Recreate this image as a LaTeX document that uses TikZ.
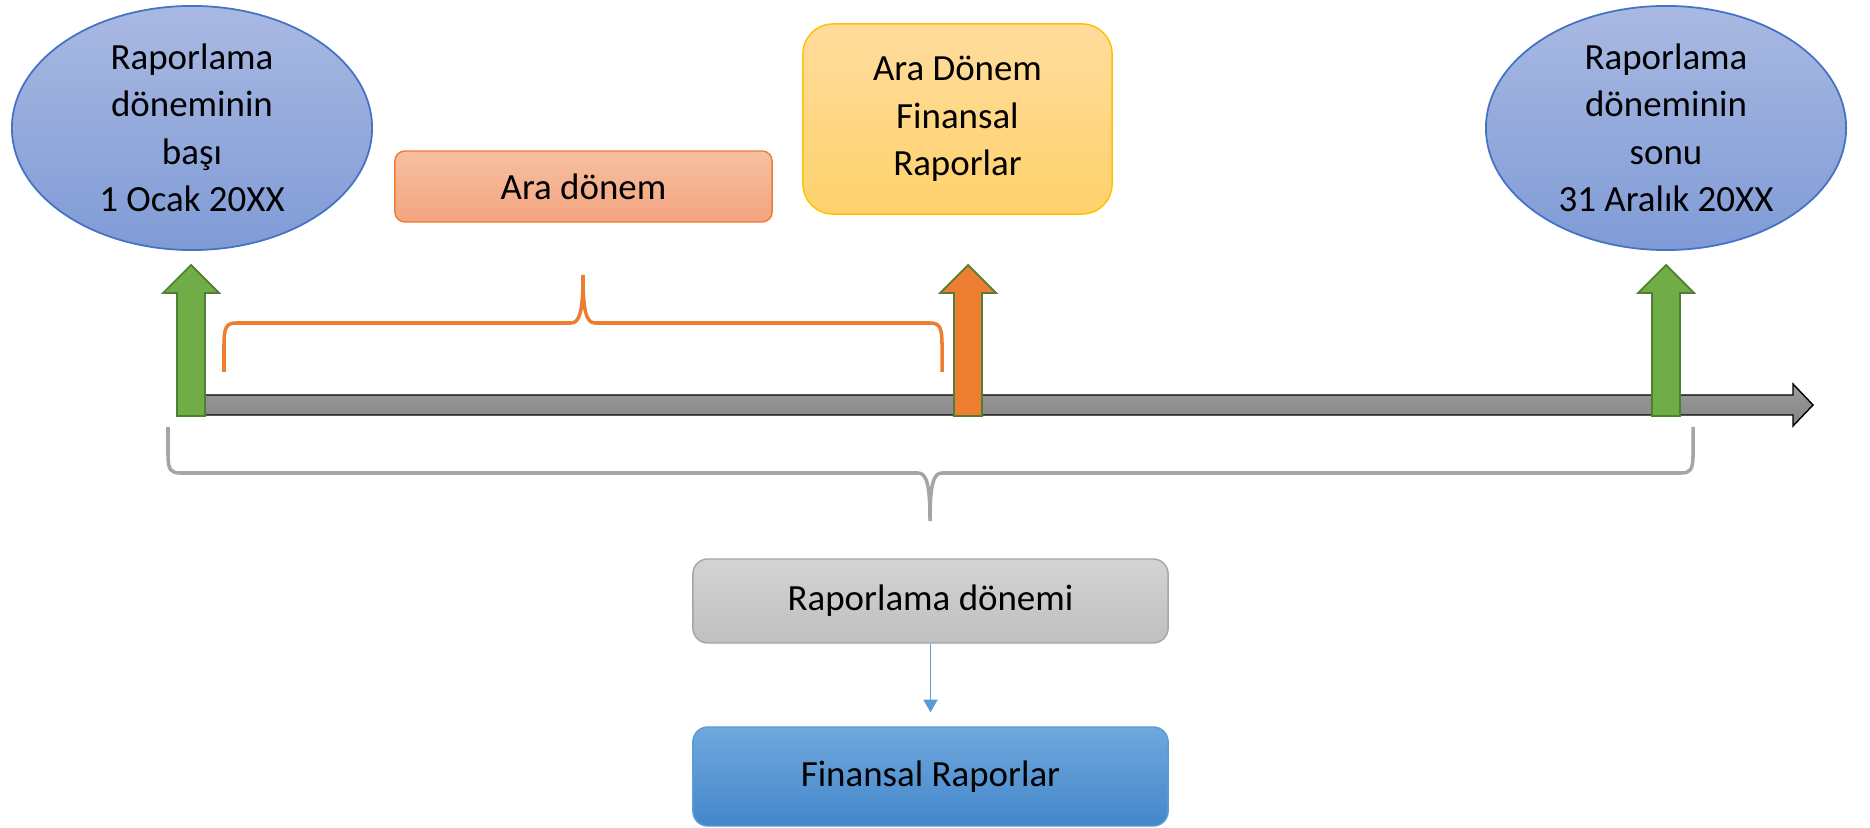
\documentclass[tikz,border=0pt]{standalone}
\usepackage{fontspec}
\setmainfont{Carlito}
\usepackage{xcolor}
\usepackage{tikz}
\usetikzlibrary{shapes,arrows,arrows.meta,positioning,calc}
\definecolor{ovalTop}{HTML}{A9B9E2}
\definecolor{ovalBottom}{HTML}{7F9BD6}
\definecolor{ovalLine}{HTML}{4472C4}
\definecolor{periodTop}{HTML}{F6C0A2}
\definecolor{periodBottom}{HTML}{F3A47E}
\definecolor{periodLine}{HTML}{ED7D31}
\definecolor{interimTop}{HTML}{FFDC9D}
\definecolor{interimBottom}{HTML}{FFD26C}
\definecolor{interimLine}{HTML}{FFC000}
\definecolor{wholeTop}{HTML}{D3D3D3}
\definecolor{wholeBottom}{HTML}{BFBFBF}
\definecolor{wholeLine}{HTML}{A5A5A5}
\definecolor{reportTop}{HTML}{6FA8DD}
\definecolor{reportBottom}{HTML}{4487CB}
\definecolor{reportLine}{HTML}{5B9BD5}
\definecolor{markGreen}{HTML}{70AD47}
\definecolor{markOrange}{HTML}{ED7D31}
\definecolor{markLine}{HTML}{507E32}
\definecolor{barTop}{HTML}{9C9C9C}
\definecolor{barBottom}{HTML}{838383}
\tikzstyle{endpoint} = [ellipse, minimum width=3.6cm, minimum height=2.44cm, inner sep=0pt, align=center, draw=ovalLine, line width=0.5pt, top color=ovalTop, bottom color=ovalBottom]
\tikzstyle{period} = [rectangle, rounded corners=0.1cm, minimum width=3.77cm, minimum height=0.71cm, align=center, draw=periodLine, top color=periodTop, bottom color=periodBottom]
\tikzstyle{interim} = [rectangle, rounded corners=0.3cm, minimum width=3.09cm, minimum height=1.9cm, align=center, draw=interimLine, top color=interimTop, bottom color=interimBottom]
\tikzstyle{whole} = [rectangle, rounded corners=0.15cm, minimum width=4.75cm, minimum height=0.84cm, align=center, draw=wholeLine, top color=wholeTop, bottom color=wholeBottom]
\tikzstyle{reports} = [rectangle, rounded corners=0.15cm, minimum width=4.75cm, minimum height=0.99cm, align=center, draw=reportLine, top color=reportTop, bottom color=reportBottom]
\tikzstyle{flow} = [draw=reportLine, line width=0.5pt, -{Triangle[width=4pt,length=3.6pt]}, shorten >=0.14cm]
\tikzstyle{brace} = [line width=1pt, line cap=butt]

\begin{document}
\begin{tikzpicture}[x=0.01cm, y=-0.01cm, every node/.style={font=\fontsize{10.5}{13.5}\selectfont}]
\useasboundingbox (0,0) rectangle (1870,828);

% Dönem başı ve sonu
\node (start) [endpoint] at (192,128) {Raporlama\\döneminin\\başı\\1 Ocak 20XX};
\node (end) [endpoint] at (1666,128) {Raporlama\\döneminin\\sonu\\31 Aralık 20XX};

% Ara dönem
\node (period) [period] at (583.5,186.5) {Ara dönem};
\node (interim) [interim] at (957.5,119) {Ara Dönem\\Finansal\\Raporlar};

% Zaman çizgisi
\draw [draw=black, top color=barTop, bottom color=barBottom] (185,395) -- (1793,395) -- (1793,384) -- (1813,405) -- (1793,426) -- (1793,415) -- (185,415) -- cycle;

% Oklar
\foreach \cx/\col in {191/markGreen, 968/markOrange, 1666/markGreen}
  \draw [draw=markLine, fill=\col, line width=0.5pt] (\cx-14,416) -- (\cx-14,293) -- (\cx-28,293) -- (\cx,265) -- (\cx+28,293) -- (\cx+14,293) -- (\cx+14,416) -- cycle;

% Parantezler
\draw [brace, draw=periodLine] (224,372) -- (224,345) .. controls (224,328) and (226,323) .. (236,323) -- (571,323) .. controls (580,323) and (583,310) .. (583,275) .. controls (583,310) and (586,323) .. (595,323) -- (930,323) .. controls (940,323) and (942,328) .. (942,345) -- (942,372);
\draw [brace, draw=wholeLine] (168,427) -- (168,455) .. controls (168,470) and (171,473) .. (180,473) -- (918,473) .. controls (927,473) and (930,486) .. (930,521) .. controls (930,486) and (933,473) .. (942,473) -- (1681,473) .. controls (1690,473) and (1693,470) .. (1693,455) -- (1693,427);

% Raporlama dönemi
\node (whole) [whole] at (930.5,601) {Raporlama dönemi};
\node (reports) [reports] at (930.5,776.5) {Finansal Raporlar};

\draw [flow] (whole) -- (reports);

\end{tikzpicture}
\end{document}
